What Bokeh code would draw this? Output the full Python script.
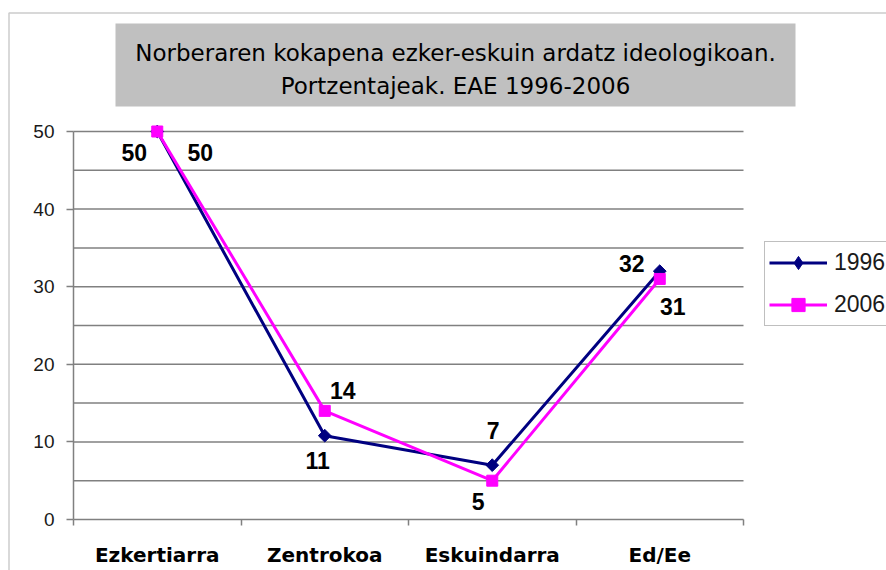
import math
from bokeh.plotting import figure
from bokeh.models import (Range1d, FixedTicker, LinearAxis, Legend, LegendItem,
                          BoxAnnotation, Label, LabelSet, ColumnDataSource)
from bokeh.embed import file_html
from bokeh.resources import INLINE
from bokeh.core.properties import value

# ---------------- data ----------------
categories = ["Ezkertiarra", "Zentrokoa", "Eskuindarra", "Ed/Ee"]
series_names = ["1996", "2006"]
values_1996 = [50, 10.8, 7, 32]
values_2006 = [50, 14, 5, 31]
y_ticks = [0, 10, 20, 30, 40, 50]
grid_ticks = [5, 10, 15, 20, 25, 30, 35, 40, 45, 50]
title_lines = ["Norberaren kokapena ezker-eskuin ardatz ideologikoan.",
               "Portzentajeak. EAE 1996-2006"]

# ---------------- styles / layout (pixels) ----------------
label_dx_1996 = [-23, -7, 1, -28]
label_dy_1996 = [-21, -25, 35, 8]
label_dx_2006 = [43, 18, -14, 13]
label_dy_2006 = [-21, 20, -21, -28]

FONT = "Liberation Sans"
WIDE_FONT = "DejaVu Sans"
GRAY = "#808080"
NAVY = "#000080"
MAGENTA = "#ff00ff"
W, H = 886, 570
AX_LEFT, AX_RIGHT = 73, 743      # page x of category axis ends
AX_BOTTOM, AX_TOP = 519, 131     # page y of value 0 and of the top value
Y_MAX = y_ticks[-1]

n = len(categories)
x_per_px = n / (AX_RIGHT - AX_LEFT)
y_per_px = Y_MAX / (AX_BOTTOM - AX_TOP)
x_range = Range1d(-AX_LEFT * x_per_px, (W - AX_LEFT) * x_per_px)
y_range = Range1d(-(H - AX_BOTTOM) * y_per_px, AX_BOTTOM * y_per_px)

x = [i + 0.5 for i in range(n)]

p = figure(width=W, height=H, output_backend="svg", toolbar_location=None,
           x_range=x_range, y_range=y_range,
           min_border=0, min_border_left=0, min_border_right=0,
           min_border_top=0, min_border_bottom=0,
           x_axis_type=None, y_axis_type=None)
p.outline_line_color = None
p.background_fill_color = "white"
p.border_fill_color = "white"
p.xgrid.visible = False
p.ygrid.visible = False

# horizontal gridlines across the category span
p.segment(x0=0, x1=n, y0=grid_ticks, y1=grid_ticks,
          line_color=GRAY, line_width=1.5)

# axes
xaxis = LinearAxis(
    fixed_location=0, bounds=(0, n),
    ticker=FixedTicker(ticks=x, minor_ticks=list(range(n + 1))),
    major_label_overrides={xi: c for xi, c in zip(x, categories)},
    major_tick_line_color=None, major_tick_in=0, major_tick_out=6,
    minor_tick_in=0, minor_tick_out=6, minor_tick_line_color=GRAY, minor_tick_line_width=1.5,
    axis_line_color=GRAY, axis_line_width=1.5,
    major_label_standoff=17,
    major_label_text_font=WIDE_FONT, major_label_text_font_size="20px",
    major_label_text_font_style="bold", major_label_text_color="black")
p.add_layout(xaxis, "below")

yaxis = LinearAxis(
    fixed_location=0, bounds=(0, Y_MAX),
    ticker=FixedTicker(ticks=y_ticks),
    major_tick_in=0, major_tick_out=7, major_tick_line_color=GRAY, major_tick_line_width=1.5,
    minor_tick_line_color=None,
    axis_line_color=GRAY, axis_line_width=1.5,
    major_label_standoff=12,
    major_label_text_font=FONT, major_label_text_font_size="19px",
    major_label_text_color="#1a1a1a")
p.add_layout(yaxis, "left")

# outer chart border and title box (screen units: from bottom-left)
p.add_layout(BoxAnnotation(left=8.5, right=W + 50, top=H - 12.5, bottom=-50,
                           left_units="screen", right_units="screen",
                           top_units="screen", bottom_units="screen",
                           fill_alpha=0, line_color="#555555", line_width=1.5))
p.add_layout(BoxAnnotation(left=115, right=795, top=H - 23, bottom=H - 106,
                           left_units="screen", right_units="screen",
                           top_units="screen", bottom_units="screen",
                           fill_color="#c0c0c0", fill_alpha=1, line_color=None))
for txt, ty in zip(title_lines, [52.5, 85.5]):
    p.add_layout(Label(x=455, y=H - ty, x_units="screen", y_units="screen", text=txt,
                       text_align="center", text_baseline="alphabetic",
                       text_font=WIDE_FONT, text_font_size="23px", text_color="black"))

# series
src1 = ColumnDataSource(dict(x=x, y=values_1996,
                             label=[f"{round(v)}" for v in values_1996],
                             dx=label_dx_1996, dy=label_dy_1996))
src2 = ColumnDataSource(dict(x=x, y=values_2006,
                             label=[f"{round(v)}" for v in values_2006],
                             dx=label_dx_2006, dy=label_dy_2006))

r1l = p.line("x", "y", source=src1, line_color=NAVY, line_width=3)
r1m = p.scatter("x", "y", source=src1, marker="square", angle=math.pi / 4, size=9,
                fill_color=NAVY, line_color=NAVY)
r2l = p.line("x", "y", source=src2, line_color=MAGENTA, line_width=3)
r2m = p.scatter("x", "y", source=src2, marker="square", size=11,
                fill_color=MAGENTA, line_color=MAGENTA)
# legend-only swatch for the diamond (legend swatches ignore marker angle);
# its single point is NaN so nothing is drawn in the plot area
r1key = p.scatter(x=[float("nan")], y=[float("nan")], marker="diamond", size=20,
                  fill_color=NAVY, line_color=NAVY)

for src in (src1, src2):
    p.add_layout(LabelSet(x="x", y="y", text="label", source=src,
                          x_offset="dx", y_offset="dy",
                          text_align="center", text_baseline="middle",
                          text_font=value(FONT), text_font_size=value("23px"),
                          text_font_style="bold", text_color="black"))

legend = Legend(items=[LegendItem(label=series_names[0], renderers=[r1l, r1key]),
                       LegendItem(label=series_names[1], renderers=[r2l, r2m])],
                location=(764, H - 326), orientation="vertical",
                border_line_color=GRAY, border_line_width=1.2,
                padding=4, spacing=9, margin=0,
                glyph_width=58, glyph_height=33, label_standoff=7,
                label_text_font=FONT, label_text_font_size="23px",
                label_text_color="#1a1a1a",
                background_fill_color="white", background_fill_alpha=1)
p.add_layout(legend)

open("out.html", "w").write(file_html(p, INLINE))
